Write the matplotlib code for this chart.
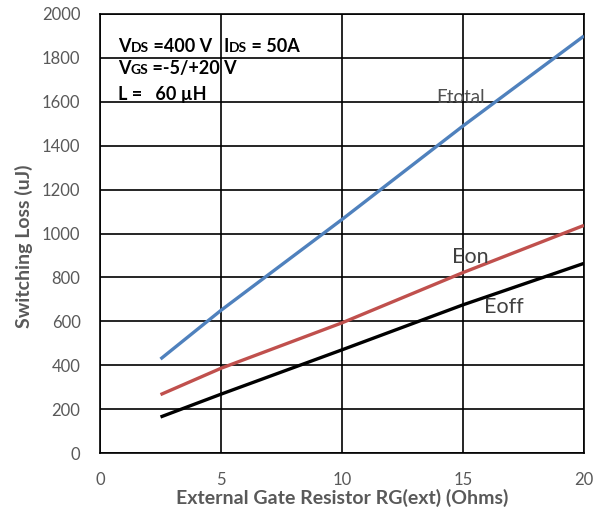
import matplotlib
matplotlib.use("Agg")
import matplotlib.pyplot as plt
from matplotlib.transforms import offset_copy

plt.rcParams["font.family"] = ["Lato", "DejaVu Sans"]

# gate resistance (ohms) and switching energies (uJ)
rg     = [2.5, 5, 10, 15, 20]
etotal = [428, 650, 1064, 1490, 1900]
eon    = [266, 386, 593, 822, 1037]
eoff   = [164, 268, 470, 675, 864]

xticks = [0, 5, 10, 15, 20]
yticks = list(range(0, 2001, 200))

GRAY = "#595959"

fig = plt.figure(figsize=(6.03, 5.12), dpi=100)
ax = fig.add_axes([100 / 603, 59 / 512, 484 / 603, 439 / 512])

ax.plot(rg, etotal, color="#4F81BD", lw=2.4, solid_capstyle="butt", zorder=3)
ax.plot(rg, eon, color="#C0504D", lw=2.4, solid_capstyle="butt", zorder=3)
ax.plot(rg, eoff, color="black", lw=2.4, solid_capstyle="butt", zorder=3)

ax.set_xlim(0, 20)
ax.set_ylim(0, 2000)
ax.set_xticks(xticks)
ax.set_yticks(yticks)
ax.grid(True, color="black", lw=1.2)
ax.set_axisbelow(True)
ax.tick_params(length=0, labelsize=12, labelcolor=GRAY)
ax.tick_params(axis="x", pad=14)
ax.tick_params(axis="y", pad=14)
for s in ax.spines.values():
    s.set_color("black")
    s.set_linewidth(1.2)

ax.set_xlabel("External Gate Resistor RG(ext) (Ohms)", fontsize=14,
              fontweight="bold", color=GRAY, labelpad=0)
ax.set_ylabel("Switching Loss (uJ)", fontsize=14, fontweight="bold", color=GRAY)
ax.yaxis.set_label_coords(-0.138, 0.47)

# curve names
ax.text(14.9, 1618, "Etotal", fontsize=13.5, color="#505050", ha="center", va="center")
ax.text(15.3, 895, "Eon", fontsize=15.5, color="#404040", ha="center", va="center")
ax.text(16.7, 664, "Eoff", fontsize=15.5, color="#404040", ha="center", va="center")

# test conditions, with small-caps subscripts
fig.canvas.draw()
renderer = fig.canvas.get_renderer()


def runs(x, y, parts):
    trans = ax.transData
    for txt, size in parts:
        t = ax.text(x, y, txt, fontsize=size, fontweight="bold", color="black",
                    transform=trans, va="baseline", ha="left", zorder=4)
        w = t.get_window_extent(renderer).width
        trans = offset_copy(trans, fig=fig, x=w * 72 / fig.dpi, y=0, units="points")


runs(0.74, 1828, [("V", 13), ("DS", 10), (" =400 V", 13)])
runs(5.1, 1828, [("I", 13), ("DS", 10), (" = 50A", 13)])
runs(0.74, 1725, [("V", 13), ("GS", 10), (" =-5/+20 V", 13)])
runs(0.74, 1608, [("L =   60 µH", 13)])

fig.savefig("out.png", dpi=100)
